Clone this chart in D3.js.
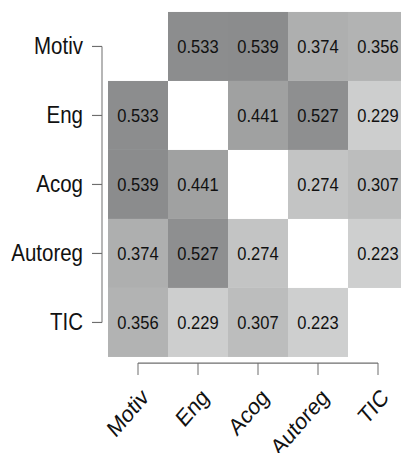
<!DOCTYPE html>
<html>
<head>
<meta charset="utf-8">
<script src="https://cdn.jsdelivr.net/npm/d3@7"></script>
<style>
  body { margin: 0; background: #fff; }
  svg { display: block; font-family: "Liberation Sans", Arial, sans-serif; }
</style>
</head>
<body>
<svg></svg>
<script>
var vars = ["Motiv", "Eng", "Acog", "Autoreg", "TIC"];

// lower triangle of the correlation matrix (row i, col j, j < i)
var corrMotiv   = [];
var corrEng     = [0.533];
var corrAcog    = [0.539, 0.441];
var corrAutoreg = [0.374, 0.527, 0.274];
var corrTIC     = [0.356, 0.229, 0.307, 0.223];

var lower = [corrMotiv, corrEng, corrAcog, corrAutoreg, corrTIC];

var W = 401, H = 453;
var stretch = 1.15;   // picture is stretched vertically

var svg = d3.select("svg")
    .attr("width", W)
    .attr("height", H);

var g = svg.append("g")
    .attr("transform", "scale(1," + stretch + ")");

// build cells from the lower triangle, mirror it to the upper one
var cells = [];
lower.forEach(function(row, i) {
    row.forEach(function(v, j) {
        cells.push({ r: vars[i], c: vars[j], v: v });
        cells.push({ r: vars[j], c: vars[i], v: v });
    });
});

var x = d3.scaleBand().domain(vars).range([108, 408]);
var y = d3.scaleBand().domain(vars).range([10.4, 310.4]);

var color = d3.scaleLinear()
    .domain([0.223, 0.539])
    .range(["#cecfcf", "#8b8c8d"]);

g.selectAll("rect.cell")
    .data(cells)
    .enter().append("rect")
    .attr("class", "cell")
    .attr("x", function(d) { return x(d.c); })
    .attr("y", function(d) { return y(d.r); })
    .attr("width", x.bandwidth())
    .attr("height", y.bandwidth())
    .attr("fill", function(d) { return color(d.v); });

g.selectAll("text.val")
    .data(cells)
    .enter().append("text")
    .attr("class", "val")
    .attr("x", function(d) { return x(d.c) + x.bandwidth() / 2; })
    .attr("y", function(d) { return y(d.r) + y.bandwidth() / 2; })
    .attr("dy", "0.35em")
    .attr("text-anchor", "middle")
    .style("font-size", "16.5px")
    .style("fill", "#111")
    .text(function(d) { return d.v.toFixed(3); });

// left axis
var yAxis = g.append("g")
    .attr("class", "axis")
    .attr("transform", "translate(102,0)")
    .call(d3.axisLeft(y).tickSize(10).tickPadding(9).tickSizeOuter(0));

yAxis.select(".domain")
    .attr("d", "M0," + (y(vars[0]) + y.bandwidth() / 2) + "V" + (y(vars[4]) + y.bandwidth() / 2));

// bottom axis
var xAxis = g.append("g")
    .attr("class", "axis")
    .attr("transform", "translate(0,315.7)")
    .call(d3.axisBottom(x).tickSize(10.4).tickSizeOuter(0));

xAxis.select(".domain")
    .attr("d", "M" + (x(vars[0]) + x.bandwidth() / 2) + ",0H" + (x(vars[4]) + x.bandwidth() / 2));

g.selectAll(".axis .domain, .axis .tick line")
    .attr("stroke", "#6e6e6e")
    .attr("stroke-width", 1);

g.selectAll(".axis text")
    .attr("fill", "#111")
    .style("font-size", "20.5px")
    .style("font-family", "'Liberation Sans', Arial, sans-serif");

xAxis.selectAll(".tick text")
    .attr("text-anchor", "end")
    .attr("dy", 0)
    .attr("y", 0)
    .attr("transform", "translate(12,31) rotate(-45)");
</script>
</body>
</html>
